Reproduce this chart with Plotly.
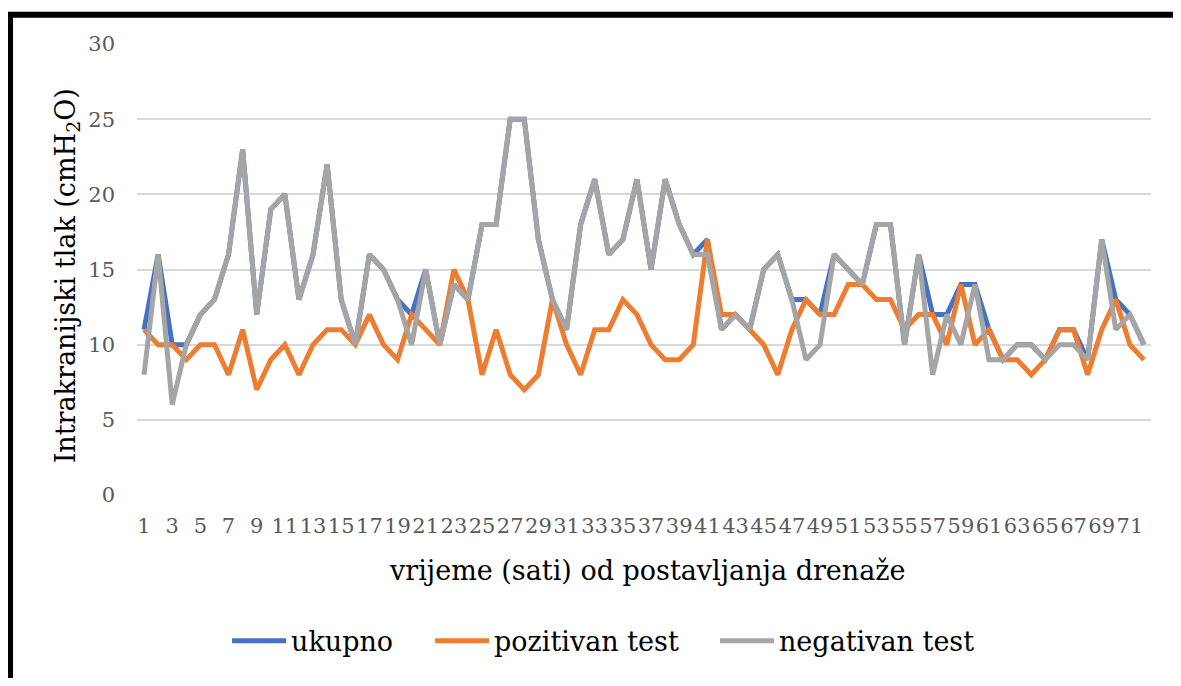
import plotly.graph_objects as go

hours = list(range(1, 73))

ukupno = [11, 16, 10, 10, 12, 13, 16, 23, 12, 19, 20, 13, 16, 22, 13, 10, 16, 15, 13, 12,
          15, 10, 14, 13, 18, 18, 25, 25, 17, 13, 11, 18, 21, 16, 17, 21, 15, 21, 18, 16,
          17, 11, 12, 11, 15, 16, 13, 13, 12, 16, 15, 14, 18, 18, 10, 16, 12, 12, 14, 14,
          11, 9, 10, 10, 9, 11, 11, 9, 17, 13, 12, 10]

pozitivan = [11, 10, 10, 9, 10, 10, 8, 11, 7, 9, 10, 8, 10, 11, 11, 10, 12, 10, 9, 12,
             11, 10, 15, 13, 8, 11, 8, 7, 8, 13, 10, 8, 11, 11, 13, 12, 10, 9, 9, 10,
             17, 12, 12, 11, 10, 8, 11, 13, 12, 12, 14, 14, 13, 13, 11, 12, 12, 10, 14, 10,
             11, 9, 9, 8, 9, 11, 11, 8, 11, 13, 10, 9]

negativan = [8, 16, 6, 10, 12, 13, 16, 23, 12, 19, 20, 13, 16, 22, 13, 10, 16, 15, 13, 10,
             15, 10, 14, 13, 18, 18, 25, 25, 17, 13, 11, 18, 21, 16, 17, 21, 15, 21, 18, 16,
             16, 11, 12, 11, 15, 16, 13, 9, 10, 16, 15, 14, 18, 18, 10, 16, 8, 12, 10, 14,
             9, 9, 10, 10, 9, 10, 10, 9, 17, 11, 12, 10]

x_ticks = list(range(1, 72, 2))
y_ticks = [0, 5, 10, 15, 20, 25, 30]

FONT = "DejaVu Serif"

fig = go.Figure()
series = [("ukupno", ukupno, "#4472C4", "legend"),
          ("pozitivan test", pozitivan, "#ED7D31", "legend2"),
          ("negativan test", negativan, "#A5A5A5", "legend3")]
for name, vals, col, lg in series:
    fig.add_trace(go.Scatter(x=hours, y=vals, name=name, mode="lines",
                             line=dict(color=col, width=5), legend=lg))

leg_common = dict(orientation="h", xanchor="left", y=-0.324, yanchor="middle",
                  font=dict(family=FONT, size=27, color="#000000"),
                  bgcolor="rgba(0,0,0,0)", borderwidth=0, itemwidth=54)

fig.update_layout(
    width=1165, height=670,
    margin=dict(l=129, r=22, t=36, b=180),
    paper_bgcolor="white", plot_bgcolor="white",
    font=dict(family=FONT, color="#595959"),
    showlegend=True,
    legend=dict(x=0.0888, **leg_common),
    legend2=dict(x=0.289, **leg_common),
    legend3=dict(x=0.570, **leg_common),
    xaxis=dict(range=[0.5, 72.5], tickmode="array", tickvals=x_ticks,
               ticktext=[str(v) for v in x_ticks], showgrid=False, zeroline=False,
               showline=False, ticks="", tickangle=0,
               tickfont=dict(family=FONT, size=21, color="#595959"),
               ticklabelstandoff=16),
    yaxis=dict(range=[0, 30], tickmode="array", tickvals=y_ticks,
               showgrid=True, gridcolor="#D9D9D9", gridwidth=1.5, zeroline=False,
               showline=False, ticks="",
               tickfont=dict(family=FONT, size=21, color="#595959"),
               ticklabelstandoff=21),
    annotations=[
        dict(text="Intrakranijski tlak (cmH<sub>2</sub>O)", xref="paper", yref="paper",
             x=-0.069, y=0.485, textangle=-90, showarrow=False,
             xanchor="center", yanchor="middle",
             font=dict(family=FONT, size=27, color="#000000")),
        dict(text="vrijeme (sati) od postavljanja drenaže", xref="paper", yref="paper",
             x=0.503, y=-0.167, showarrow=False, xanchor="center", yanchor="middle",
             font=dict(family=FONT, size=27, color="#000000")),
    ],
    shapes=[
        dict(type="line", xref="paper", yref="paper",
             x0=-0.128, x1=1.0217, y0=1.065, y1=1.065,
             line=dict(color="black", width=6), layer="above"),
        dict(type="line", xref="paper", yref="paper",
             x0=-0.1252, x1=-0.1252, y0=1.071, y1=-0.6,
             line=dict(color="black", width=6), layer="above"),
    ],
)

fig.write_html("out.html")
